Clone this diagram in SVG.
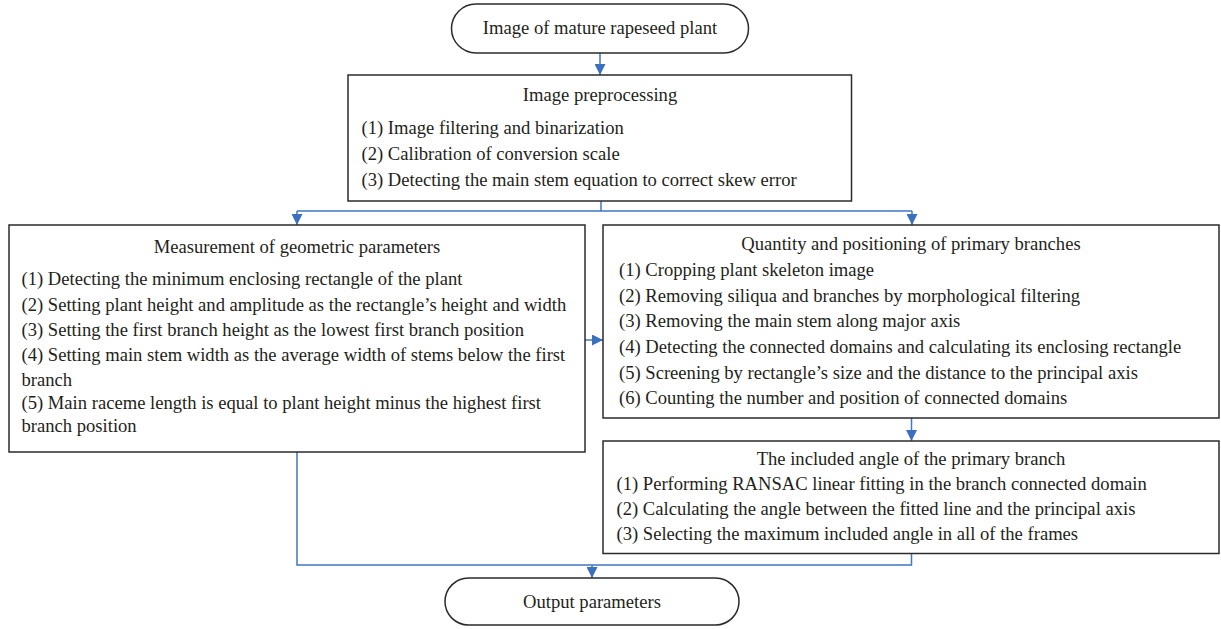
<svg xmlns="http://www.w3.org/2000/svg" width="1221" height="629" viewBox="0 0 1221 629">
<defs>
<style>
.box{fill:#fff;stroke:#2b2b2b;stroke-width:1.5}
.t{font-family:"Liberation Serif","Times New Roman",serif;font-size:18.6px;fill:#231f20}
.c{text-anchor:middle}
.ln{fill:none;stroke:#4176c0;stroke-width:1.5}
</style>
<marker id="ah" markerWidth="11" markerHeight="11" viewBox="0 0 11 11" refX="11" refY="5.5" orient="auto" markerUnits="userSpaceOnUse">
<path d="M0,0 L11,5.5 L0,11 Z" fill="#3a70bd"/>
</marker>
</defs>
<rect width="1221" height="629" fill="#fff"/>
<g id="connectors">
<path class="ln" d="M600,53 V75" marker-end="url(#ah)"/>
<path class="ln" d="M601,201 V211"/>
<path class="ln" d="M297,211 H912"/>
<path class="ln" d="M297,211 V225" marker-end="url(#ah)"/>
<path class="ln" d="M912,211 V225" marker-end="url(#ah)"/>
<path class="ln" d="M585,340 H603" marker-end="url(#ah)"/>
<path class="ln" d="M911.5,418 V441" marker-end="url(#ah)"/>
<path class="ln" d="M297,452 V565 H911.5 V553.5"/>
<path class="ln" d="M592,565 V578" marker-end="url(#ah)"/>
</g>
<g id="start">
<rect class="box" x="451.5" y="4" width="297" height="49" rx="24.5"/>
<text class="t c" x="600" y="33.5">Image of mature rapeseed plant</text>
</g>
<g id="preprocessing">
<rect class="box" x="348" y="75" width="503.5" height="126"/>
<text class="t c" x="600" y="100.5">Image preprocessing</text>
<text class="t" x="361.5" y="134">(1) Image filtering and binarization</text>
<text class="t" x="361.5" y="159.5">(2) Calibration of conversion scale</text>
<text class="t" x="361.5" y="185.5">(3) Detecting the main stem equation to correct skew error</text>
</g>
<g id="measurement">
<rect class="box" x="9" y="225" width="576" height="227"/>
<text class="t c" x="297" y="253">Measurement of geometric parameters</text>
<text class="t" x="21.5" y="284.5">(1) Detecting the minimum enclosing rectangle of the plant</text>
<text class="t" x="21.5" y="310.5">(2) Setting plant height and amplitude as the rectangle’s height and width</text>
<text class="t" x="21.5" y="336">(3) Setting the first branch height as the lowest first branch position</text>
<text class="t" x="21.5" y="361.3">(4) Setting main stem width as the average width of stems below the first</text>
<text class="t" x="21.5" y="385.5">branch</text>
<text class="t" x="21.5" y="409">(5) Main raceme length is equal to plant height minus the highest first</text>
<text class="t" x="21.5" y="432.3">branch position</text>
</g>
<g id="quantity">
<rect class="box" x="603" y="225" width="616" height="193"/>
<text class="t c" x="911" y="249.5">Quantity and positioning of primary branches</text>
<text class="t" x="619" y="276.2">(1) Cropping plant skeleton image</text>
<text class="t" x="619" y="301.8">(2) Removing siliqua and branches by morphological filtering</text>
<text class="t" x="619" y="327.4">(3) Removing the main stem along major axis</text>
<text class="t" x="619" y="353">(4) Detecting the connected domains and calculating its enclosing rectangle</text>
<text class="t" x="619" y="378.6">(5) Screening by rectangle’s size and the distance to the principal axis</text>
<text class="t" x="619" y="404.2">(6) Counting the number and position of connected domains</text>
</g>
<g id="angle">
<rect class="box" x="603" y="441" width="616" height="112.5"/>
<text class="t c" x="911" y="464.5">The included angle of the primary branch</text>
<text class="t" x="616.5" y="489.5">(1) Performing RANSAC linear fitting in the branch connected domain</text>
<text class="t" x="616.5" y="515">(2) Calculating the angle between the fitted line and the principal axis</text>
<text class="t" x="616.5" y="539.5">(3) Selecting the maximum included angle in all of the frames</text>
</g>
<g id="output">
<rect class="box" x="445" y="578" width="294" height="47" rx="23.5"/>
<text class="t c" x="592" y="607.5">Output parameters</text>
</g>
</svg>
